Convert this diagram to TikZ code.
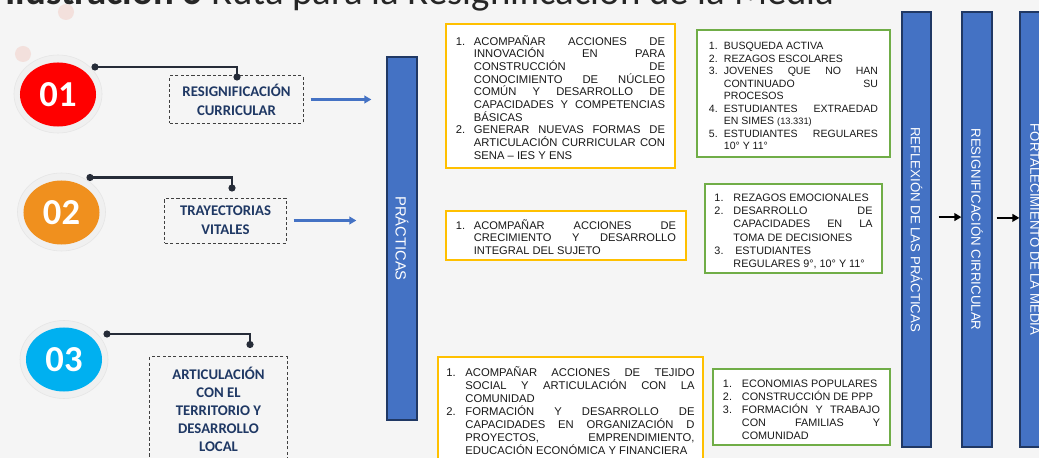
\documentclass[tikz,border=0pt]{standalone}
\usepackage{fontspec}
\setmainfont{Liberation Sans}
\newfontfamily\calibri{Carlito}
\usetikzlibrary{shapes.geometric,arrows.meta}

\definecolor{bgcol}{HTML}{F5F5F5}
\definecolor{navy}{HTML}{1F3864}
\definecolor{barblue}{HTML}{4472C4}
\definecolor{bardark}{HTML}{203864}
\definecolor{goldline}{HTML}{FFC000}
\definecolor{greenline}{HTML}{70AD47}
\definecolor{redfill}{HTML}{FF0000}
\definecolor{orangefill}{HTML}{F0901E}
\definecolor{cyanfill}{HTML}{00B0F0}
\definecolor{ringgray}{HTML}{F0F0F0}
\definecolor{pinkdot}{HTML}{F3E0DC}
\definecolor{darkline}{HTML}{262C38}

\newlength{\itemgap}
\newcommand{\numitem}[2]{\par\noindent\hangindent=\itemgap\hangafter=1\makebox[\itemgap][l]{#1}#2}
\hbadness=10000
\hfuzz=20pt
\tolerance=10000

\tikzset{
  ring/.style={ellipse, fill=ringgray, draw=black!10, minimum width=2.2cm, minimum height=1.95cm},
  numdisc/.style={ellipse, inner sep=0, minimum width=1.9cm, minimum height=1.6cm, text=white,
    font=\calibri\bfseries\fontsize{26}{26}\selectfont},
  labelbox/.style={draw=black!75, dash pattern=on 2.2pt off 1.6pt, line width=0.7pt, align=center,
    text=navy, inner sep=0, font=\calibri\bfseries\fontsize{10.5}{13.5}\selectfont},
  conn/.style={draw=darkline, line width=1.5pt},
  listbox/.style={fill=white, line width=1.4pt, align=justify, inner ysep=0, text=black!90},
  orangebox/.style={listbox, draw=goldline},
  greenbox/.style={listbox, draw=greenline},
  bar/.style={rotate=-90, fill=barblue, draw=bardark, line width=0.9pt, text=white, inner sep=0,
    font=\fontsize{9.4}{9.4}\selectfont},
  bluearrow/.style={draw=barblue, line width=1.6pt, -{Triangle[length=5pt,width=5.5pt]}},
  blackarrow/.style={draw=black, line width=1.6pt, -{Triangle[length=5pt,width=5.5pt]}}
}

\begin{document}
\begin{tikzpicture}[x=0.025cm, y=-0.025cm]
\useasboundingbox (0,0) rectangle (1039,458);
\clip (0,0) rectangle (1039,458);
\fill[bgcol] (0,0) rectangle (1039,458);

\node[anchor=base west, inner sep=0, text=black!85, font=\calibri\fontsize{27.6}{27.6}\selectfont] (title) at (5,5)
  {\textbf{Ilustración 6} Ruta para la Resignificación de la Media};

\fill[pinkdot] (66,12) circle (0.2cm);
\fill[pinkdot] (23,54) circle (0.2cm);

% ejes
\node[ring] (r1) at (58,94) {};
\node[numdisc, fill=redfill] (c1) at (58,94.5) {01};
\node[ring] (r2) at (61.5,212) {};
\node[numdisc, fill=orangefill] (c2) at (61.5,212.5) {02};
\node[ring] (r3) at (64,359.5) {};
\node[numdisc, fill=cyanfill] (c3) at (64,359.5) {03};

\node[labelbox, minimum width=3.325cm, minimum height=1.175cm] (res) at (236.5,99.5) {RESIGNIFICACIÓN\\CURRICULAR};
\node[labelbox, minimum width=3.025cm, minimum height=1.125cm] (tray) at (225.5,220.5) {TRAYECTORIAS\\VITALES};
\node[labelbox, minimum width=3.425cm, minimum height=2.625cm, font=\calibri\bfseries\fontsize{10.5}{12.9}\selectfont] (art) at (218.5,409.5)
  {ARTICULACIÓN\\CON EL\\TERRITORIO Y\\DESARROLLO\\LOCAL};

\coordinate (d1a) at (95,67);
\coordinate (d1b) at (237,77);
\coordinate (d2a) at (90,177.5);
\coordinate (d2b) at (232,188);
\coordinate (d3a) at (107,334);
\coordinate (d3b) at (250,344.5);
\foreach \k in {1,2,3} {
  \draw[conn] (d\k a) -| (d\k b);
  \fill[darkline] (d\k a) circle (0.09cm) (d\k b) circle (0.09cm);
}

% barras
\node[bar, minimum width=9.075cm, minimum height=0.75cm, font=\fontsize{10.5}{10.5}\selectfont] (prac) at (402,238.5) {PRÁCTICAS};
\node[bar, minimum width=10.875cm, minimum height=0.725cm] (refl) at (916.5,229.5) {REFLEXIÓN DE LAS PRÁCTICAS};
\node[bar, minimum width=10.875cm, minimum height=0.75cm] (resig) at (977,229.5) {RESIGNIFICACIÓN CIRRICULAR};
\node[bar, minimum width=10.875cm, minimum height=0.75cm] (fort) at (1035,229.5) {FORTALECIMIENTO DE LA MEDIA};

\draw[bluearrow, shorten <=0.175cm, shorten >=0.375cm] (res.east) -- (res.east -| prac.south);
\draw[bluearrow, shorten <=0.175cm, shorten >=0.75cm] (tray.east) -- (tray.east -| prac.south);
\draw[blackarrow, shorten <=0.175cm] ([yshift=0.31cm]refl.north) -- ([yshift=0.31cm]resig.south);
\draw[blackarrow, shorten <=0.1cm] ([yshift=0.29cm]resig.north) -- ([yshift=0.29cm]fort.south);

% acciones
\node[orangebox, text width=5.225cm, inner xsep=0.25cm, minimum height=3.6cm, font=\fontsize{8.0}{9.0}\selectfont] (accA) at (560.5,96) {%
  \setlength{\itemgap}{12.8pt}%
  \numitem{1.}{ACOMPAÑAR ACCIONES DE\linebreak INNOVACIÓN EN PARA\linebreak CONSTRUCCIÓN DE\linebreak CONOCIMIENTO DE NÚCLEO\linebreak COMÚN Y DESARROLLO DE\linebreak CAPACIDADES Y COMPETENCIAS\linebreak BÁSICAS}
  \numitem{2.}{GENERAR NUEVAS FORMAS DE\linebreak ARTICULACIÓN CURRICULAR CON\linebreak SENA – IES Y ENS}\par};
\node[greenbox, text width=4.225cm, inner xsep=0.3cm, minimum height=3.175cm, font=\fontsize{7.5}{8.86}\selectfont] (pobA) at (793.5,93.5) {%
  \setlength{\itemgap}{10.6pt}%
  \numitem{1.}{BUSQUEDA ACTIVA}
  \numitem{2.}{REZAGOS ESCOLARES}
  \numitem{3.}{JOVENES QUE NO HAN\linebreak CONTINUADO SU\linebreak PROCESOS}
  \numitem{4.}{ESTUDIANTES EXTRAEDAD\linebreak EN SIMES {\fontsize{6.6}{8}\selectfont(13.331)}}
  \numitem{5.}{ESTUDIANTES REGULARES\linebreak 10° Y 11°}\par};

\node[orangebox, text width=5.5cm, inner xsep=0.25cm, minimum height=1.225cm, font=\fontsize{7.9}{9.0}\selectfont] (accB) at (566,235.5) {%
  \setlength{\itemgap}{12.75pt}%
  \numitem{1.}{ACOMPAÑAR ACCIONES DE\linebreak CRECIMIENTO Y DESARROLLO\linebreak INTEGRAL DEL SUJETO}\par};
\node[greenbox, text width=3.95cm, inner xsep=0.2375cm, minimum height=2.225cm, font=\fontsize{7.7}{9.4}\selectfont] (pobB) at (793.5,228.5) {%
  \setlength{\itemgap}{13.5pt}%
  \numitem{1.}{REZAGOS EMOCIONALES}
  \numitem{2.}{DESARROLLO DE\linebreak CAPACIDADES EN LA\linebreak TOMA DE DECISIONES}
  \numitem{3.}{\,ESTUDIANTES\linebreak \mbox{REGULARES 9°, 10° Y 11°}}\par};

\node[orangebox, text width=6.2cm, inner xsep=0.2125cm, minimum height=2.6cm, font=\fontsize{8.0}{9.2}\selectfont] (accC) at (570.5,409) {%
  \setlength{\itemgap}{13.5pt}%
  \numitem{1.}{ACOMPAÑAR ACCIONES DE TEJIDO\linebreak SOCIAL Y ARTICULACIÓN CON LA\linebreak COMUNIDAD}
  \numitem{2.}{FORMACIÓN Y DESARROLLO DE\linebreak CAPACIDADES EN ORGANIZACIÓN D\linebreak PROYECTOS, EMPRENDIMIENTO,\linebreak EDUCACIÓN ECONÓMICA Y FINANCIERA}\par};
\node[greenbox, text width=3.925cm, inner xsep=0.25cm, minimum height=1.9cm, font=\fontsize{7.7}{9.2}\selectfont] (pobC) at (801.5,407) {%
  \setlength{\itemgap}{13.5pt}%
  \numitem{1.}{ECONOMIAS POPULARES}
  \numitem{2.}{CONSTRUCCIÓN DE PPP}
  \numitem{3.}{FORMACIÓN Y TRABAJO\linebreak CON FAMILIAS Y\linebreak COMUNIDAD}\par};
\end{tikzpicture}
\end{document}
